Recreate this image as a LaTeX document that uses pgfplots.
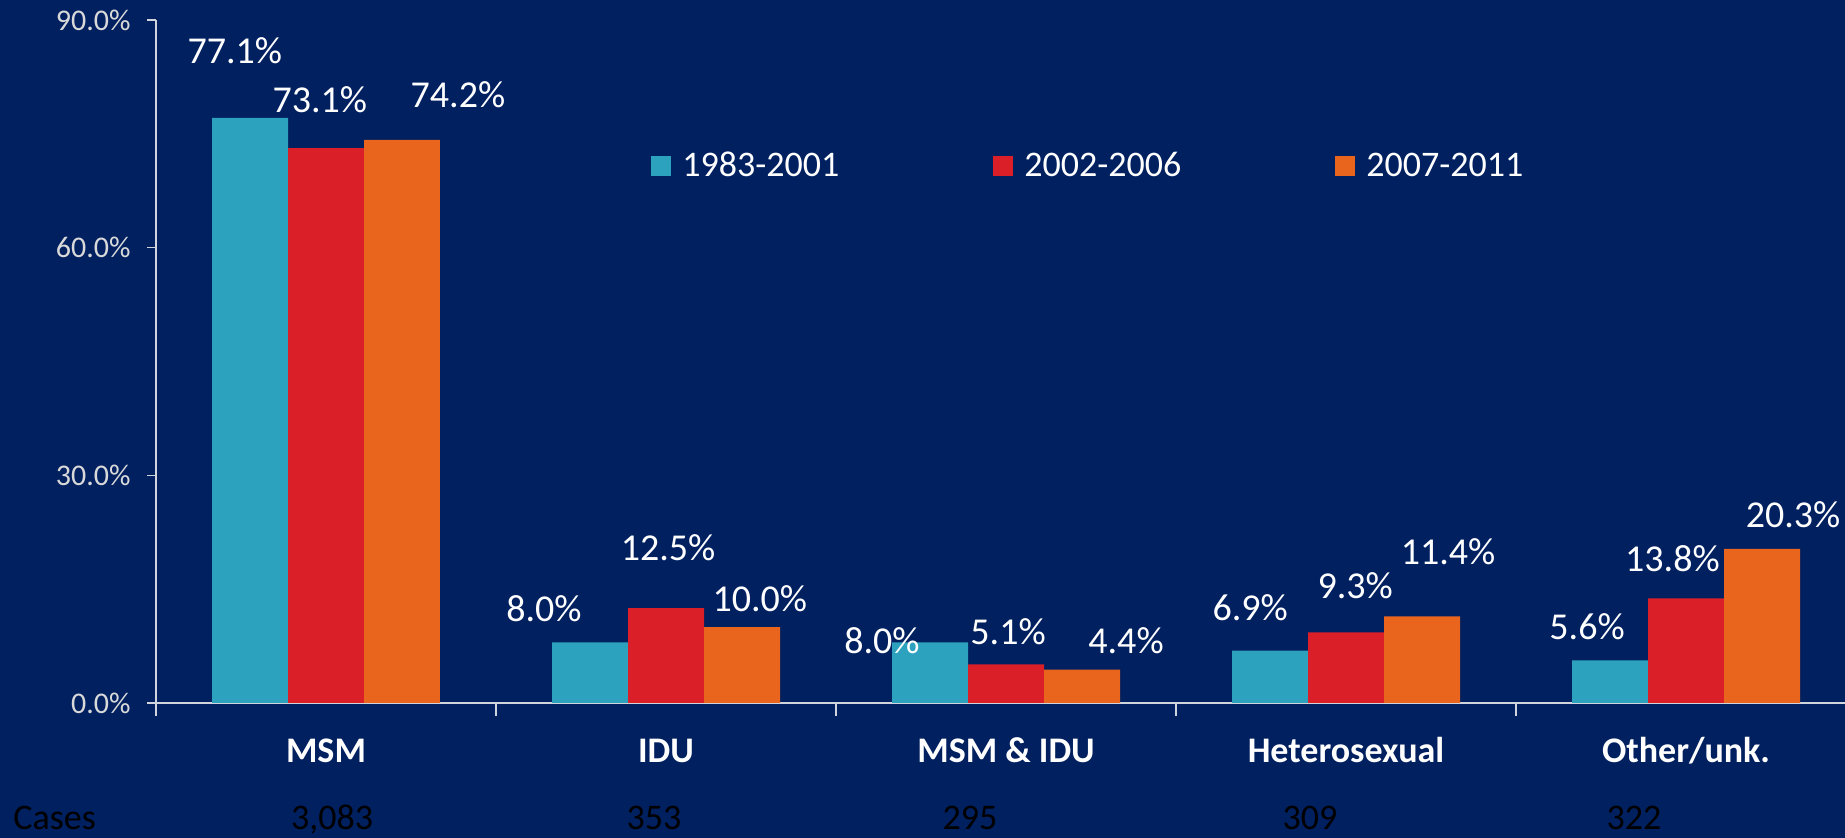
\documentclass[border=0pt]{standalone}
\usepackage{pgfplots}
\pgfplotsset{compat=1.18}
\usepackage{fontspec}
\setmainfont{Carlito}
\definecolor{bg}{HTML}{002060}
\definecolor{cA}{HTML}{2DA2BF}
\definecolor{cB}{HTML}{DA1F28}
\definecolor{cC}{HTML}{E9651E}
\definecolor{axisgray}{HTML}{D0D4DC}
\definecolor{ticklab}{HTML}{D9D9D9}
\pgfplotsset{sqlegend/.style={legend image code/.code={\fill[##1] (0pt,-5pt) rectangle (10pt,5pt);}}}
\begin{document}
\begin{tikzpicture}
\path[use as bounding box, fill=bg] (0,0) rectangle (922.5pt,419pt);
\begin{axis}[
  at={(78pt,67.5pt)}, anchor=south west,
  scale only axis, width=844.5pt, height=341.5pt,
  xmin=-0.5, xmax=4.4676, ymin=0, ymax=90,
  axis x line=bottom, axis y line=left,
  axis line style={-, draw=axisgray, line width=0.65pt},
  tick style={draw=axisgray, line width=0.65pt},
  tick align=outside, major tick length=4.5pt,
  ytick={0,30,60,90},
  yticklabels={0.0\%,30.0\%,60.0\%,90.0\%},
  yticklabel style={font=\fontsize{15pt}{15pt}\selectfont, text=ticklab, anchor=east, inner sep=0pt, xshift=-8pt},
  xtick=\empty,
  extra x ticks={-0.5,0.5,1.5,2.5,3.5},
  extra x tick labels={},
  extra x tick style={major tick length=6.5pt, tick align=outside},
  clip=false,
  legend columns=3,
  legend cell align=left,
  legend style={at={(rel axis cs:0.2895,0.786)}, anchor=west, draw=none, fill=none,
    font=\fontsize{18pt}{18pt}\selectfont,
    nodes={text=white, inner sep=0pt},
    /tikz/every odd column/.append style={column sep=5.5pt},
    /tikz/every even column/.append style={column sep=77pt}},
]
\addplot[ybar, bar width=0.2235, bar shift=-0.2235, fill=cA, draw=none, sqlegend]
  coordinates {(0,77.1) (1,8.0) (2,8.0) (3,6.9) (4,5.6)};
\addlegendentry{1983-2001}
\addplot[ybar, bar width=0.2235, bar shift=0, fill=cB, draw=none, sqlegend]
  coordinates {(0,73.1) (1,12.5) (2,5.1) (3,9.3) (4,13.8)};
\addlegendentry{2002-2006}
\addplot[ybar, bar width=0.2235, bar shift=0.2235, fill=cC, draw=none, sqlegend]
  coordinates {(0,74.2) (1,10.0) (2,4.4) (3,11.4) (4,20.3)};
\addlegendentry{2007-2011}

% value labels
\begin{scope}[every node/.style={text=white, font=\fontsize{19pt}{19pt}\selectfont, inner sep=0pt, anchor=center}]
\node at (axis cs:-0.268,86.0) {77.1\%};
\node at (axis cs:-0.018,79.5) {73.1\%};
\node at (axis cs:0.388,80.2) {74.2\%};
\node at (axis cs:0.641,12.4) {8.0\%};
\node at (axis cs:1.006,20.4) {12.5\%};
\node at (axis cs:1.276,13.7) {10.0\%};
\node at (axis cs:1.635,8.2) {8.0\%};
\node at (axis cs:2.006,9.4) {5.1\%};
\node at (axis cs:2.353,8.2) {4.4\%};
\node at (axis cs:2.718,12.5) {6.9\%};
\node at (axis cs:3.027,15.5) {9.3\%};
\node at (axis cs:3.300,19.9) {11.4\%};
\node at (axis cs:3.709,10.0) {5.6\%};
\node at (axis cs:3.960,19.0) {13.8\%};
\node at (axis cs:4.315,24.8) {20.3\%};
\end{scope}

% category labels
\begin{scope}[every node/.style={text=white, font=\bfseries\fontsize{18pt}{18pt}\selectfont, inner sep=0pt, anchor=base, yshift=-30pt}]
\node at (axis cs:0,0) {MSM};
\node at (axis cs:1,0) {IDU};
\node at (axis cs:2,0) {MSM \& IDU};
\node at (axis cs:3,0) {Heterosexual};
\node at (axis cs:4,0) {Other/unk.};
\end{scope}

% cases row
\begin{scope}[every node/.style={text=black, font=\fontsize{18pt}{18pt}\selectfont, inner sep=0pt, anchor=base, yshift=-63.5pt}]
\node[anchor=base west] at (axis cs:-0.9206,0) {Cases};
\node at (axis cs:0.018,0) {3,083};
\node at (axis cs:0.965,0) {353};
\node at (axis cs:1.894,0) {295};
\node at (axis cs:2.894,0) {309};
\node at (axis cs:3.847,0) {322};
\end{scope}
\end{axis}
\end{tikzpicture}
\end{document}
